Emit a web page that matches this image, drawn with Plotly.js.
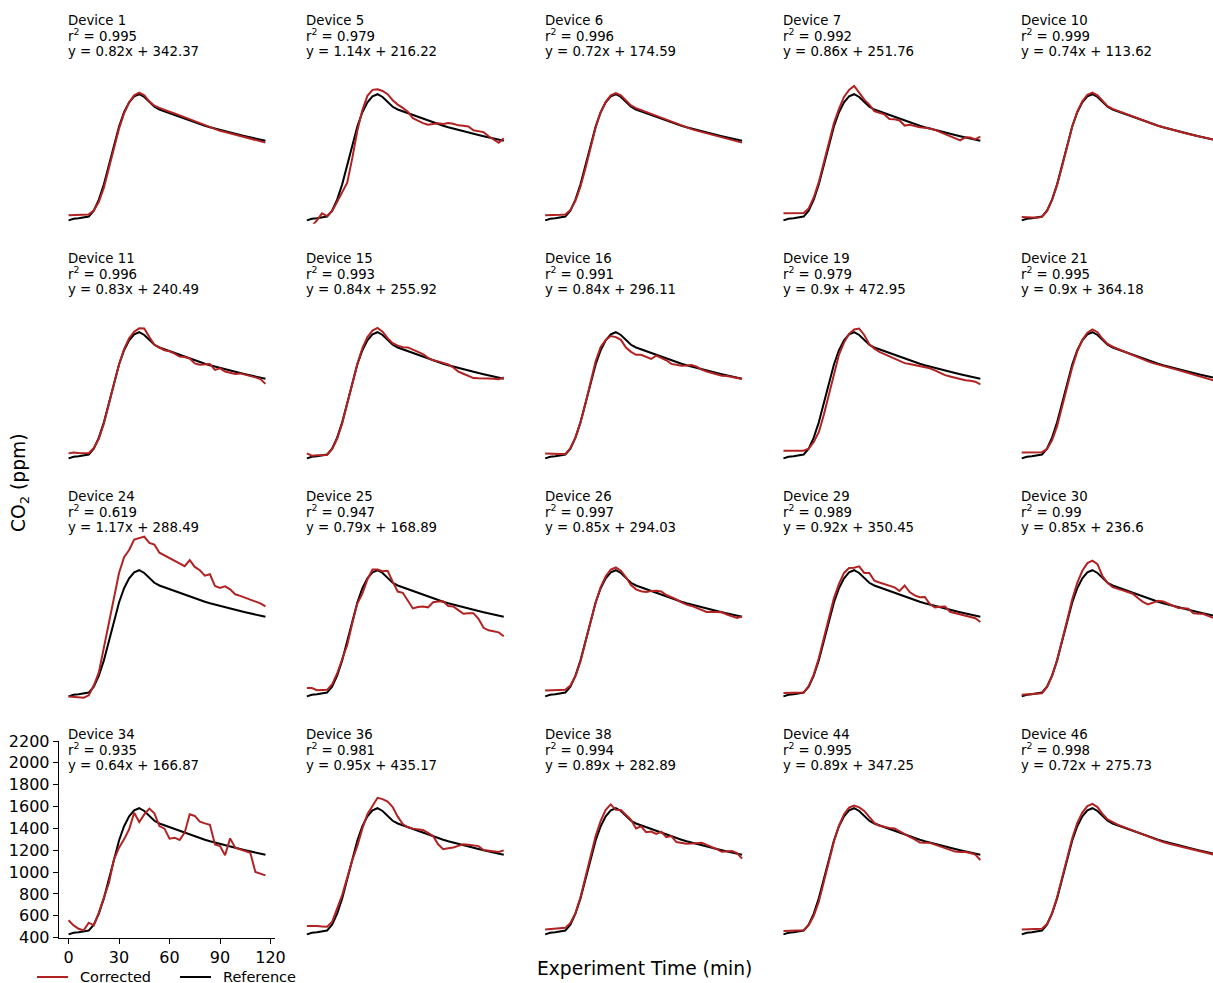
<!DOCTYPE html>
<html>
<head>
<meta charset="utf-8">
<script src="https://cdn.plot.ly/plotly-3.0.1.min.js"></script>
<style>
  html, body { margin: 0; padding: 0; background: #fff; }
  #chart { width: 1213px; height: 983px; }
</style>
</head>
<body>
<div id="chart"></div>
<script>
// Sampling times (minutes)
const time = [0, 3, 6, 9, 12, 15, 18, 21, 24, 27, 30, 33, 36, 39, 42, 45, 48, 51, 54, 57,
              60, 63, 66, 69, 72, 75, 78, 81, 84, 87, 90, 93, 96, 99, 102, 105, 108, 111, 114, 117];

// Reference instrument CO2 (ppm), shared by every panel
const reference = [430, 445, 450, 455, 465, 520, 620, 760, 930, 1120, 1290, 1420, 1510, 1565, 1585, 1560, 1510, 1470, 1445, 1428,
                   1412, 1396, 1380, 1362, 1345, 1328, 1312, 1297, 1283, 1270, 1257, 1245, 1233, 1222, 1211, 1200, 1189, 1179, 1169, 1160];

// Corrected low-cost sensor CO2 (ppm)
const dev01 = [478, 480, 482, 483, 485, 520, 600, 730, 900, 1090, 1270, 1410, 1510, 1575, 1600, 1575, 1520, 1480, 1460, 1440,
               1425, 1410, 1392, 1372, 1352, 1335, 1315, 1297, 1282, 1265, 1250, 1240, 1228, 1215, 1205, 1192, 1182, 1168, 1152, 1142];
const dev05 = [360, 380, 430, 495, 470, 515, 600, 690, 775, 1000, 1250, 1440, 1570, 1625, 1630, 1615, 1585, 1530, 1490, 1460,
               1425, 1365, 1340, 1320, 1305, 1315, 1318, 1312, 1322, 1315, 1300, 1297, 1290, 1255, 1245, 1238, 1200, 1170, 1140, 1182];
const dev06 = [478, 478, 480, 481, 485, 525, 610, 740, 910, 1100, 1280, 1420, 1515, 1575, 1595, 1575, 1525, 1482, 1458, 1440,
               1422, 1405, 1388, 1368, 1348, 1330, 1312, 1295, 1279, 1265, 1252, 1240, 1228, 1215, 1202, 1190, 1178, 1165, 1153, 1142];
const dev07 = [495, 495, 495, 495, 497, 540, 640, 780, 960, 1150, 1320, 1450, 1560, 1625, 1660, 1600, 1535, 1490, 1430, 1415,
               1400, 1358, 1355, 1345, 1298, 1305, 1290, 1282, 1278, 1272, 1258, 1240, 1215, 1200, 1185, 1162, 1190, 1188, 1172, 1196];
const dev10 = [462, 458, 455, 455, 462, 515, 615, 755, 925, 1115, 1290, 1425, 1520, 1580, 1600, 1575, 1522, 1475, 1450, 1432,
               1416, 1400, 1382, 1363, 1346, 1329, 1312, 1297, 1283, 1270, 1257, 1245, 1233, 1221, 1210, 1199, 1188, 1178, 1168, 1158];
const dev11 = [476, 485, 480, 478, 478, 525, 610, 750, 920, 1110, 1290, 1430, 1530, 1590, 1620, 1618, 1540, 1470, 1445, 1420,
               1410, 1390, 1362, 1358, 1345, 1300, 1288, 1290, 1294, 1240, 1254, 1225, 1212, 1202, 1208, 1198, 1188, 1172, 1156, 1112];
const dev15 = [476, 455, 460, 460, 462, 515, 610, 750, 925, 1115, 1295, 1440, 1540, 1600, 1625, 1590, 1530, 1485, 1462, 1448,
               1446, 1425, 1405, 1385, 1350, 1328, 1318, 1306, 1290, 1262, 1225, 1205, 1185, 1165, 1163, 1165, 1162, 1160, 1155, 1170];
const dev16 = [476, 472, 470, 470, 470, 525, 620, 760, 935, 1130, 1320, 1450, 1515, 1550, 1540, 1515, 1445, 1405, 1378, 1378,
               1360, 1340, 1370, 1352, 1328, 1295, 1288, 1278, 1280, 1285, 1270, 1242, 1225, 1212, 1200, 1187, 1185, 1175, 1165, 1156];
const dev19 = [500, 502, 502, 500, 500, 520, 580, 670, 830, 1020, 1210, 1380, 1490, 1570, 1610, 1618, 1560, 1475, 1435, 1405,
               1385, 1365, 1345, 1320, 1302, 1295, 1285, 1275, 1265, 1255, 1235, 1210, 1192, 1180, 1168, 1155, 1145, 1140, 1132, 1108];
const dev21 = [485, 485, 485, 485, 487, 515, 595, 725, 895, 1085, 1265, 1410, 1515, 1580, 1610, 1585, 1525, 1478, 1452, 1432,
               1414, 1395, 1375, 1355, 1336, 1318, 1302, 1288, 1275, 1262, 1250, 1238, 1226, 1213, 1200, 1188, 1175, 1160, 1146, 1130];
const dev24 = [430, 428, 425, 418, 440, 530, 650, 870, 1100, 1320, 1560, 1705, 1770, 1865, 1880, 1893, 1835, 1820, 1745, 1720,
               1690, 1668, 1645, 1622, 1678, 1615, 1585, 1535, 1548, 1440, 1423, 1437, 1410, 1365, 1350, 1332, 1318, 1302, 1282, 1254];
const dev25 = [507, 507, 487, 490, 490, 540, 640, 770, 900, 1100, 1280, 1370, 1500, 1592, 1592, 1575, 1580, 1480, 1390, 1378,
               1300, 1235, 1248, 1252, 1245, 1292, 1298, 1300, 1258, 1254, 1220, 1186, 1192, 1192, 1140, 1058, 1035, 1022, 1016, 980];
const dev26 = [485, 485, 485, 486, 490, 530, 615, 750, 920, 1110, 1290, 1430, 1530, 1590, 1610, 1580, 1520, 1450, 1410, 1392,
               1385, 1395, 1396, 1390, 1358, 1340, 1318, 1290, 1270, 1258, 1242, 1222, 1203, 1205, 1200, 1200, 1180, 1162, 1148, 1162];
const dev29 = [462, 462, 460, 460, 465, 525, 630, 780, 960, 1160, 1330, 1460, 1560, 1605, 1608, 1620, 1560, 1560, 1490, 1472,
               1458, 1445, 1428, 1395, 1445, 1385, 1355, 1338, 1340, 1275, 1245, 1250, 1252, 1205, 1192, 1182, 1172, 1160, 1145, 1111];
const dev30 = [446, 450, 452, 455, 458, 515, 615, 760, 935, 1130, 1320, 1470, 1580, 1650, 1672, 1640, 1530, 1470, 1430, 1412,
               1400, 1385, 1370, 1330, 1295, 1272, 1290, 1305, 1298, 1280, 1260, 1240, 1238, 1232, 1190, 1188, 1184, 1165, 1145, 1130];
const dev34 = [559, 513, 482, 467, 537, 513, 629, 766, 903, 1117, 1224, 1300, 1392, 1544, 1459, 1529, 1581, 1538, 1422, 1398,
               1306, 1315, 1294, 1361, 1529, 1514, 1462, 1446, 1434, 1254, 1239, 1154, 1309, 1224, 1208, 1193, 1178, 1001, 989, 970];
const dev36 = [507, 508, 506, 503, 500, 545, 660, 790, 950, 1110, 1240, 1400, 1530, 1612, 1680, 1668, 1645, 1595, 1508, 1440,
               1410, 1398, 1392, 1386, 1360, 1330, 1255, 1210, 1218, 1225, 1240, 1254, 1250, 1245, 1238, 1202, 1198, 1192, 1185, 1199];
const dev38 = [476, 478, 480, 482, 490, 535, 625, 770, 950, 1150, 1330, 1470, 1570, 1620, 1570, 1568, 1520, 1480, 1400, 1420,
               1365, 1372, 1350, 1370, 1320, 1330, 1275, 1265, 1260, 1262, 1266, 1269, 1250, 1232, 1210, 1186, 1190, 1193, 1175, 1123];
const dev44 = [462, 464, 465, 466, 468, 515, 600, 730, 900, 1095, 1280, 1425, 1530, 1590, 1610, 1592, 1560, 1500, 1450, 1425,
               1412, 1405, 1400, 1372, 1342, 1322, 1300, 1270, 1268, 1268, 1252, 1235, 1222, 1205, 1188, 1185, 1184, 1175, 1160, 1111];
const dev46 = [476, 478, 478, 479, 482, 525, 625, 770, 945, 1135, 1310, 1450, 1545, 1605, 1625, 1595, 1532, 1482, 1455, 1435,
               1416, 1398, 1380, 1360, 1340, 1322, 1305, 1290, 1275, 1262, 1250, 1238, 1227, 1215, 1204, 1192, 1180, 1170, 1160, 1150];

// Panel labels and regression statistics
const deviceNames = ['Device 1', 'Device 5', 'Device 6', 'Device 7', 'Device 10',
                     'Device 11', 'Device 15', 'Device 16', 'Device 19', 'Device 21',
                     'Device 24', 'Device 25', 'Device 26', 'Device 29', 'Device 30',
                     'Device 34', 'Device 36', 'Device 38', 'Device 44', 'Device 46'];
const rSquared = ['0.995', '0.979', '0.996', '0.992', '0.999',
                  '0.996', '0.993', '0.991', '0.979', '0.995',
                  '0.619', '0.947', '0.997', '0.989', '0.99',
                  '0.935', '0.981', '0.994', '0.995', '0.998'];
const slopes = ['0.82', '1.14', '0.72', '0.86', '0.74',
                '0.83', '0.84', '0.84', '0.9', '0.9',
                '1.17', '0.79', '0.85', '0.92', '0.85',
                '0.64', '0.95', '0.89', '0.89', '0.72'];
const intercepts = ['342.37', '216.22', '174.59', '251.76', '113.62',
                    '240.49', '255.92', '296.11', '472.95', '364.18',
                    '288.49', '168.89', '294.03', '350.45', '236.6',
                    '166.87', '435.17', '282.89', '347.25', '275.73'];

const xTicks = [0, 30, 60, 90, 120];
const yTicks = [400, 600, 800, 1000, 1200, 1400, 1600, 1800, 2000, 2200];
const seriesNames = ['Corrected', 'Reference'];

const corrected = [dev01, dev05, dev06, dev07, dev10, dev11, dev15, dev16, dev19, dev21,
                   dev24, dev25, dev26, dev29, dev30, dev34, dev36, dev38, dev44, dev46];

// ---- layout geometry (pixels) ----
const W = 1213, H = 983;
const NCOL = 5, NROW = 4;
const colStep = 238.3, rowStep = 238;
const plotLeft0 = 58.7, plotW = 216.6;
const plotTop0 = 741 - 3 * rowStep, plotH = 196.7;
const xMin = -5.85, xMax = 122.85;
const pxPerMin = plotW / (xMax - xMin);

const RED = '#b22222';
const BLACK = '#000000';
const FONT = 'DejaVu Sans, Verdana, sans-serif';

const px = v => v / W;          // horizontal pixel -> paper fraction
const py = v => 1 - v / H;      // vertical pixel (from top) -> paper fraction

const traces = [];
const layout = {
  width: W, height: H,
  margin: {l: 0, r: 0, t: 0, b: 0, autoexpand: false},
  paper_bgcolor: '#ffffff',
  plot_bgcolor: 'rgba(0,0,0,0)',
  font: {family: FONT, color: '#000000', size: 13.3},
  showlegend: false,
  annotations: [],
  shapes: []
};

for (let k = 0; k < corrected.length; k++) {
  const r = Math.floor(k / NCOL), c = k % NCOL;
  const id = k === 0 ? '' : String(k + 1);
  const left = plotLeft0 + c * colStep;
  const right = Math.min(left + plotW, W);
  const top = plotTop0 + r * rowStep;
  const bottom = top + plotH;
  const xEnd = xMin + (right - left) / pxPerMin;
  const shown = (r === NROW - 1 && c === 0);

  const xa = {
    domain: [px(left), px(right)],
    range: [xMin, xEnd],
    anchor: 'y' + id,
    fixedrange: true,
    showgrid: false, zeroline: false
  };
  const ya = {
    domain: [py(bottom), py(top)],
    range: [400, 2200],
    anchor: 'x' + id,
    fixedrange: true,
    showgrid: false, zeroline: false
  };
  if (shown) {
    Object.assign(xa, {
      visible: true, showline: true, linecolor: '#000', linewidth: 1,
      ticks: 'outside', ticklen: 5, tickwidth: 1, tickcolor: '#000',
      tickmode: 'array', tickvals: xTicks, ticktext: xTicks.map(String),
      tickfont: {family: FONT, size: 16, color: '#000'}
    });
    Object.assign(ya, {
      visible: true, showline: true, linecolor: '#000', linewidth: 1,
      ticks: 'outside', ticklen: 5, tickwidth: 1, tickcolor: '#000',
      tickmode: 'array', tickvals: yTicks, ticktext: yTicks.map(String),
      tickfont: {family: FONT, size: 16, color: '#000'}
    });
  } else {
    xa.visible = false;
    ya.visible = false;
  }
  layout['xaxis' + id] = xa;
  layout['yaxis' + id] = ya;

  traces.push({
    type: 'scatter', mode: 'lines',
    x: time, y: reference,
    xaxis: 'x' + id, yaxis: 'y' + id,
    line: {color: BLACK, width: 2},
    name: seriesNames[1], hoverinfo: 'skip'
  });
  traces.push({
    type: 'scatter', mode: 'lines',
    x: time, y: corrected[k],
    xaxis: 'x' + id, yaxis: 'y' + id,
    line: {color: RED, width: 2},
    name: seriesNames[0], hoverinfo: 'skip'
  });

  // Per-panel labels
  const tx = px(67 + c * colStep);
  const baseY = r * rowStep;
  const lines = [
    [deviceNames[k], 20.5],
    ['r<sup>2</sup> = ' + rSquared[k], 35.0],
    ['y = ' + slopes[k] + 'x + ' + intercepts[k], 51.0]
  ];
  lines.forEach(([txt, yc]) => {
    layout.annotations.push({
      xref: 'paper', yref: 'paper',
      x: tx, y: py(baseY + yc),
      xanchor: 'left', yanchor: 'middle',
      text: txt, showarrow: false,
      font: {family: FONT, size: 13.3, color: '#000'},
      borderpad: 0
    });
  });
}

// Figure-level axis titles
layout.annotations.push({
  xref: 'paper', yref: 'paper',
  x: px(644), y: py(968),
  xanchor: 'center', yanchor: 'middle',
  text: 'Experiment Time (min)', showarrow: false,
  font: {family: FONT, size: 18.7, color: '#000'}
});
layout.annotations.push({
  xref: 'paper', yref: 'paper',
  x: px(20), y: py(483),
  xanchor: 'center', yanchor: 'middle',
  text: 'CO<sub>2</sub> (ppm)', showarrow: false, textangle: -90,
  font: {family: FONT, size: 18.7, color: '#000'}
});

// Legend below the bottom-left panel
const legendItems = [
  {name: seriesNames[0], color: RED, x0: 37, x1: 68, tx: 79},
  {name: seriesNames[1], color: BLACK, x0: 180, x1: 211, tx: 222}
];
legendItems.forEach(it => {
  layout.shapes.push({
    type: 'line', xref: 'paper', yref: 'paper',
    x0: px(it.x0), x1: px(it.x1), y0: py(977), y1: py(977),
    line: {color: it.color, width: 2}
  });
  layout.annotations.push({
    xref: 'paper', yref: 'paper',
    x: px(it.tx), y: py(977),
    xanchor: 'left', yanchor: 'middle',
    text: it.name, showarrow: false, borderpad: 0,
    font: {family: FONT, size: 14.5, color: '#000'}
  });
});

Plotly.newPlot('chart', traces, layout, {staticPlot: true, displayModeBar: false});
</script>
</body>
</html>
